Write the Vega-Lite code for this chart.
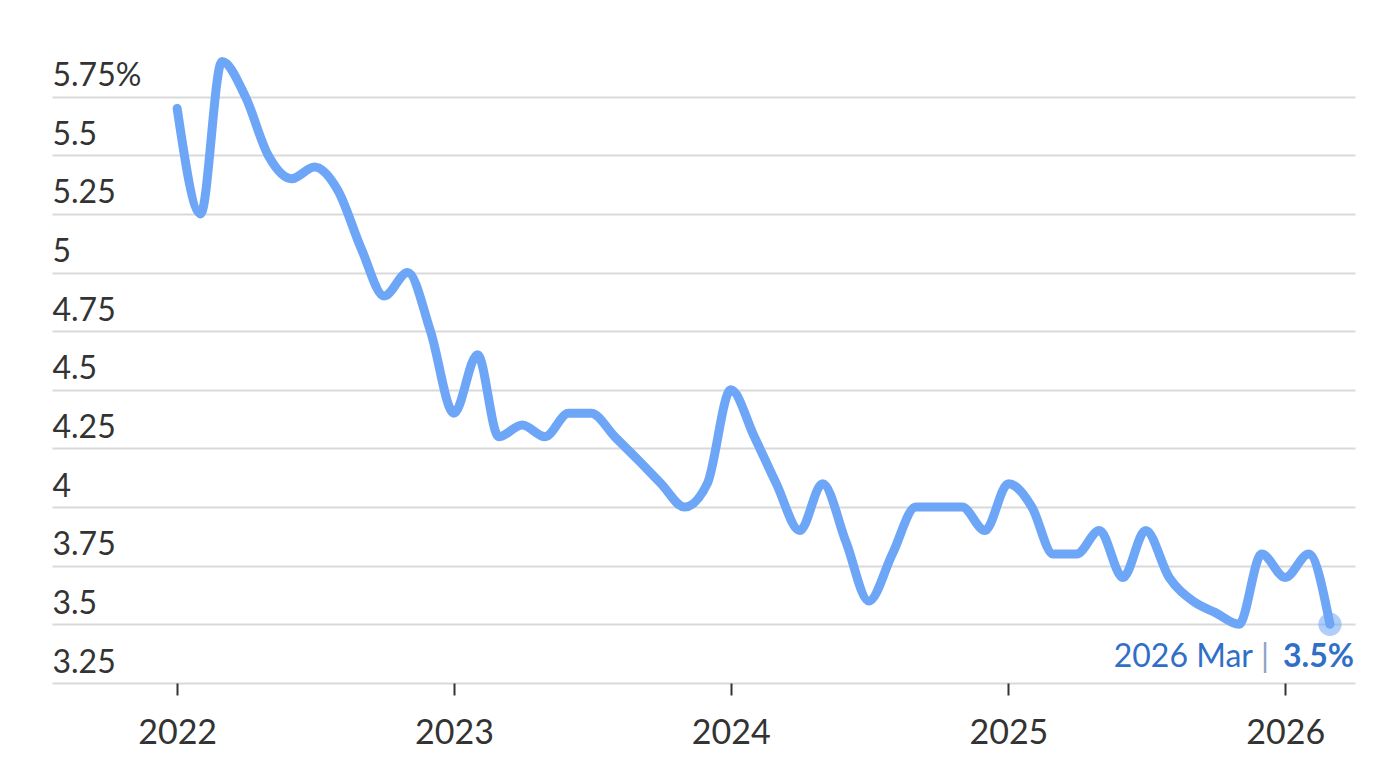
{
  "$schema": "https://vega.github.io/schema/vega-lite/v6.json",
  "autosize": {"type": "none"},
  "padding": {"left": 52, "top": 38, "right": 45, "bottom": 97},
  "width": 1303,
  "height": 645,
  "background": "white",
  "config": {
    "view": {"stroke": null},
    "font": "Lato"
  },
  "data": {
    "values": [
      {"date": "2022/01/01", "rate": 5.7},
      {"date": "2022/02/01", "rate": 5.25},
      {"date": "2022/03/01", "rate": 5.9},
      {"date": "2022/04/01", "rate": 5.75},
      {"date": "2022/05/01", "rate": 5.5},
      {"date": "2022/06/01", "rate": 5.4},
      {"date": "2022/07/01", "rate": 5.45},
      {"date": "2022/08/01", "rate": 5.35},
      {"date": "2022/09/01", "rate": 5.1},
      {"date": "2022/10/01", "rate": 4.9},
      {"date": "2022/11/01", "rate": 5.0},
      {"date": "2022/12/01", "rate": 4.75},
      {"date": "2023/01/01", "rate": 4.4},
      {"date": "2023/02/01", "rate": 4.65},
      {"date": "2023/03/01", "rate": 4.3},
      {"date": "2023/04/01", "rate": 4.35},
      {"date": "2023/05/01", "rate": 4.3},
      {"date": "2023/06/01", "rate": 4.4},
      {"date": "2023/07/01", "rate": 4.4},
      {"date": "2023/08/01", "rate": 4.3},
      {"date": "2023/09/01", "rate": 4.2},
      {"date": "2023/10/01", "rate": 4.1},
      {"date": "2023/11/01", "rate": 4.0},
      {"date": "2023/12/01", "rate": 4.1},
      {"date": "2024/01/01", "rate": 4.5},
      {"date": "2024/02/01", "rate": 4.3},
      {"date": "2024/03/01", "rate": 4.1},
      {"date": "2024/04/01", "rate": 3.9},
      {"date": "2024/05/01", "rate": 4.1},
      {"date": "2024/06/01", "rate": 3.85},
      {"date": "2024/07/01", "rate": 3.6},
      {"date": "2024/08/01", "rate": 3.8},
      {"date": "2024/09/01", "rate": 4.0},
      {"date": "2024/10/01", "rate": 4.0},
      {"date": "2024/11/01", "rate": 4.0},
      {"date": "2024/12/01", "rate": 3.9},
      {"date": "2025/01/01", "rate": 4.1},
      {"date": "2025/02/01", "rate": 4.0},
      {"date": "2025/03/01", "rate": 3.8},
      {"date": "2025/04/01", "rate": 3.8},
      {"date": "2025/05/01", "rate": 3.9},
      {"date": "2025/06/01", "rate": 3.7},
      {"date": "2025/07/01", "rate": 3.9},
      {"date": "2025/08/01", "rate": 3.7},
      {"date": "2025/09/01", "rate": 3.6},
      {"date": "2025/10/01", "rate": 3.55},
      {"date": "2025/11/01", "rate": 3.5},
      {"date": "2025/12/01", "rate": 3.8},
      {"date": "2026/01/01", "rate": 3.7},
      {"date": "2026/02/01", "rate": 3.8},
      {"date": "2026/03/01", "rate": 3.5}
    ]
  },
  "encoding": {
    "x": {
      "field": "date",
      "type": "temporal",
      "scale": {"domain": [{"year": 2021, "month": 7, "date": 20}, {"year": 2026, "month": 4, "date": 3}]},
      "axis": {
        "title": null,
        "values": [{"year": 2022, "month": 1, "date": 1}, {"year": 2023, "month": 1, "date": 1}, {"year": 2024, "month": 1, "date": 1}, {"year": 2025, "month": 1, "date": 1}, {"year": 2026, "month": 1, "date": 1}],
        "format": "%Y",
        "domain": false,
        "grid": false,
        "ticks": true,
        "tickSize": 12,
        "tickWidth": 2,
        "tickColor": "#333333",
        "labelFontSize": 34,
        "labelColor": "#333333",
        "labelPadding": 21,
        "labelFlush": false,
        "labelFont": "Lato"
      }
    },
    "y": {
      "field": "rate",
      "type": "quantitative",
      "scale": {"domain": [3.25, 6.0], "nice": false, "zero": false},
      "axis": {
        "title": null,
        "values": [3.25, 3.5, 3.75, 4, 4.25, 4.5, 4.75, 5, 5.25, 5.5, 5.75],
        "format": ".2~f",
        "labelExpr": "datum.value == 5.75 ? '5.75%' : datum.label",
        "domain": false,
        "ticks": false,
        "tickSize": 0,
        "grid": true,
        "gridColor": "#d9d9d9",
        "gridWidth": 2,
        "labelAlign": "left",
        "labelBaseline": "alphabetic",
        "labelPadding": 0,
        "labelOffset": -11,
        "labelFontSize": 32,
        "labelColor": "#333333",
        "labelFont": "Lato"
      }
    }
  },
  "layer": [
    {
      "mark": {"type": "line", "interpolate": "monotone", "stroke": "#6ea6f7", "strokeWidth": 9, "strokeCap": "round", "strokeJoin": "round"}
    },
    {
      "transform": [{"filter": "year(datum.date) == 2026 && month(datum.date) == 2"}],
      "mark": {"type": "point", "filled": true, "size": 540, "color": "#6ea6f7", "opacity": 0.55}
    },
    {
      "transform": [{"filter": "year(datum.date) == 2026 && month(datum.date) == 2"}],
      "mark": {"type": "text", "text": "3.5%", "align": "right", "baseline": "middle", "dx": 24, "dy": 33, "fontSize": 32, "fontWeight": "bold", "color": "#2f6fc8", "font": "Lato"}
    },
    {
      "transform": [{"filter": "year(datum.date) == 2026 && month(datum.date) == 2"}],
      "mark": {"type": "text", "text": "|", "align": "center", "baseline": "middle", "dx": -65, "dy": 33, "fontSize": 32, "color": "#8ea3c4", "font": "Lato"}
    },
    {
      "transform": [{"filter": "year(datum.date) == 2026 && month(datum.date) == 2"}],
      "mark": {"type": "text", "text": "2026 Mar", "align": "right", "baseline": "middle", "dx": -77, "dy": 33, "fontSize": 32, "color": "#2f6fc8", "font": "Lato"}
    }
  ]
}
